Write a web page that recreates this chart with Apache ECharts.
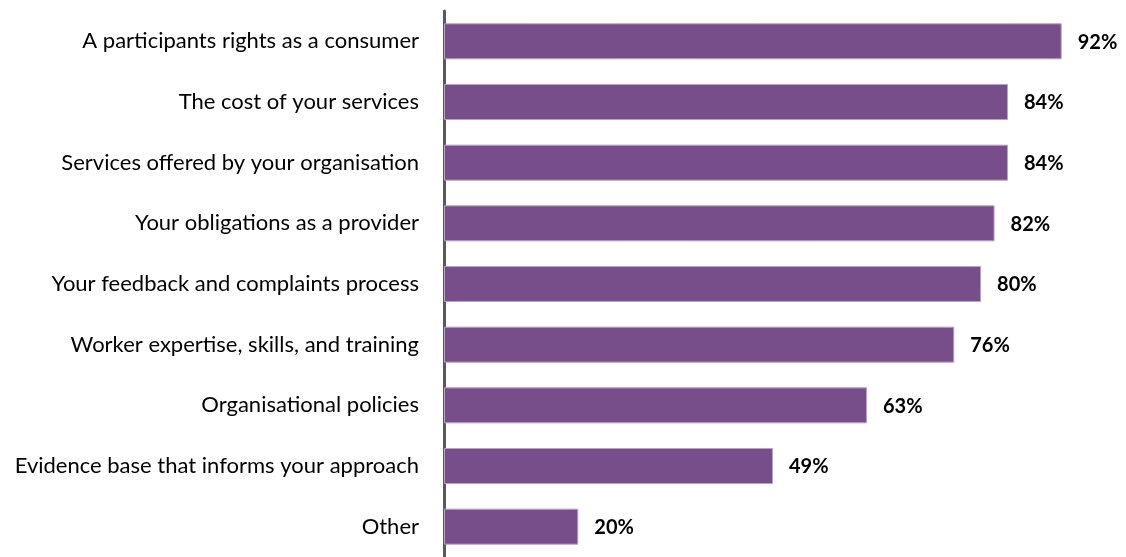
<!DOCTYPE html>
<html>
<head>
<meta charset="utf-8">
<script src="https://cdn.jsdelivr.net/npm/echarts@6/dist/echarts.min.js"></script>
<style>
  html, body { margin: 0; padding: 0; background: #fff; }
  #chart { width: 1126px; height: 557px; }
</style>
</head>
<body>
<div id="chart"></div>
<script>
// Survey topics, listed top to bottom
const categories = [
  'A participants rights as a consumer',
  'The cost of your services',
  'Services offered by your organisation',
  'Your obligations as a provider',
  'Your feedback and complaints process',
  'Worker expertise, skills, and training',
  'Organisational policies',
  'Evidence base that informs your approach',
  'Other'
];
// Share of respondents (%)
const values = [92, 84, 84, 82, 80, 76, 63, 49, 20];

const chart = echarts.init(document.getElementById('chart'));
chart.setOption({
  animation: false,
  grid: { left: 444, top: 11, width: 671.4, height: 549.5, containLabel: false },
  xAxis: {
    type: 'value', min: 0, max: 100,
    show: false
  },
  yAxis: {
    type: 'category',
    inverse: true,
    data: categories,
    axisLine: { show: true, lineStyle: { color: '#595959', width: 3 } },
    axisTick: { show: false },
    axisLabel: {
      margin: 25,
      color: '#000',
      fontFamily: 'Lato',
      fontSize: 22
    }
  },
  series: [{
    type: 'bar',
    data: values,
    barWidth: 36,
    itemStyle: { color: '#784E8A', borderColor: '#B8A2C6', borderWidth: 1 },
    label: {
      show: true,
      position: 'right',
      distance: 16,
      offset: [0, 1],
      formatter: p => p.value + '%',
      color: '#000',
      fontFamily: 'Lato',
      fontWeight: 'bold',
      fontSize: 20
    }
  }]
});
</script>
</body>
</html>
